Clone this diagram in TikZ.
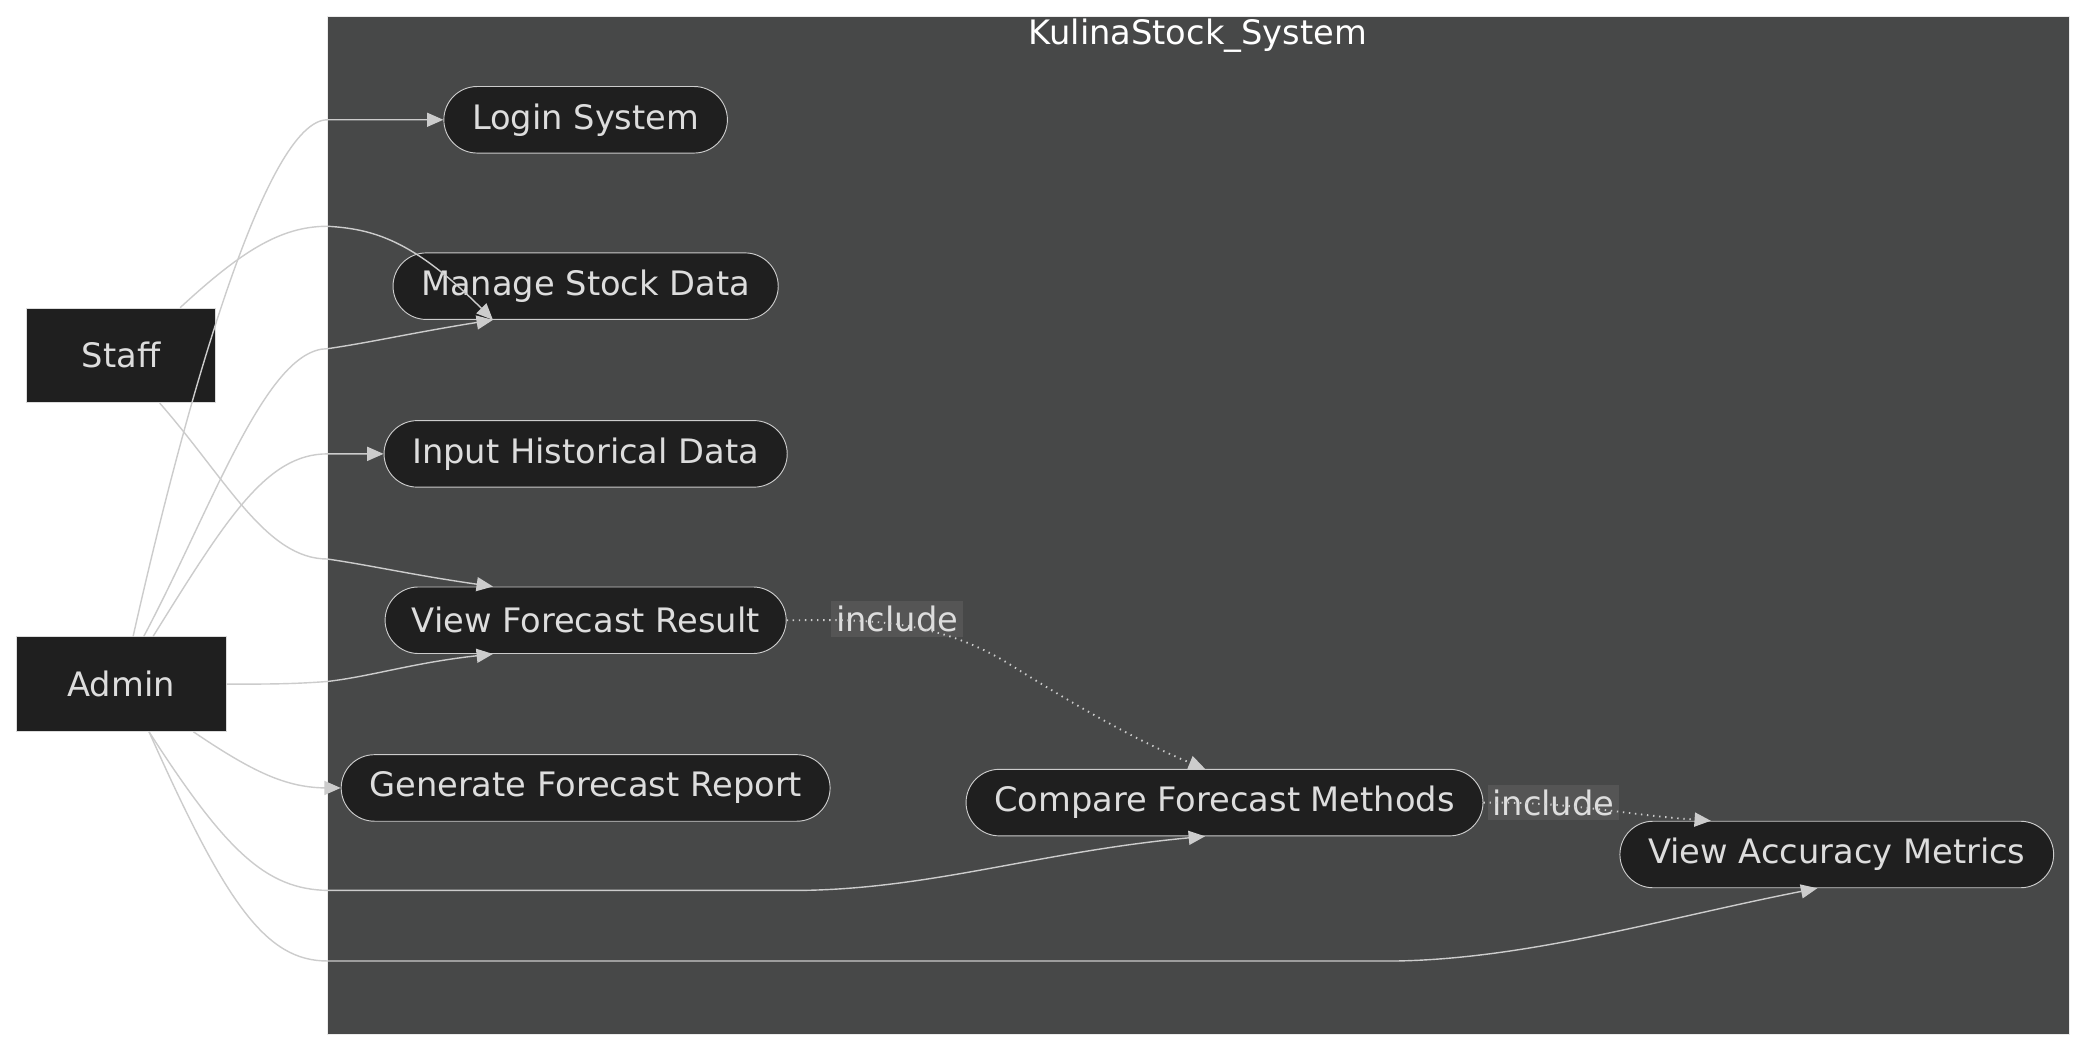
\documentclass[tikz,border=0pt]{standalone}
\usepackage{fontspec}
\setmainfont{DejaVu Sans}
\usetikzlibrary{arrows.meta,positioning,shapes.misc}
\definecolor{sysbg}{HTML}{474848}
\definecolor{nodebg}{HTML}{1F1F1F}
\definecolor{linec}{HTML}{CCCCCC}
\definecolor{textc}{HTML}{DDDDDD}
\definecolor{lblbg}{HTML}{555555}
\begin{document}
\begin{tikzpicture}[x=0.02cm, y=-0.02cm,
    actor/.style={rectangle, draw=linec!70, fill=nodebg, text=textc, minimum width=2.84cm, minimum height=1.42cm, font=\Large},
    usecase/.style={rounded rectangle, draw=linec, fill=nodebg, text=textc, minimum height=1cm, inner xsep=0.36cm, font=\Large},
    edge/.style={draw=linec, line width=0.6pt, -{Triangle[length=7pt,width=6pt]}},
    inc/.style={edge, dotted, line width=0.8pt},
    lbl/.style={fill=lblbg, text=textc, font=\Large, inner sep=2pt}
]
    % canvas and system boundary
    \useasboundingbox (0,0) rectangle (1568,790);
    \fill[white] (0,0) rectangle (1568,790);
    \node[draw=linec!40, fill=sysbg, minimum width=26.18cm, minimum height=15.3cm, anchor=north west] (sys) at (246,12) {};
    \node[text=white, font=\Large] (systitle) at (900,27) {KulinaStock\_System};

    % actors
    \node[actor] (staff) at (91,267) {Staff};
    \node[actor, minimum width=3.16cm] (admin) at (91,514) {Admin};

    % use cases
    \node[usecase] (login) at (440,90) {Login System};
    \node[usecase] (manage) at (440,215) {Manage Stock Data};
    \node[usecase] (input) at (440,341) {Input Historical Data};
    \node[usecase] (viewf) at (440,466) {View Forecast Result};
    \node[usecase] (report) at (440,592) {Generate Forecast Report};
    \node[usecase] (compare) at (920,603) {Compare Forecast Methods};
    \node[usecase] (accuracy) at (1380,642) {View Accuracy Metrics};

    % staff links
    \draw[edge] (staff.north east) ++(-27,0) .. controls (180,190) and (210,170) .. (246,170) .. controls (280,172) and (310,180) .. (manage.200);
    \draw[edge] (staff.south) ++(29,0) .. controls (170,360) and (200,420) .. (246,420) .. controls (280,425) and (310,432) .. (viewf.160);

    % admin links
    \draw[edge] (admin.north) ++(9,0) .. controls (140,300) and (200,90) .. (246,90) -- (login.west);
    \draw[edge] (admin.north) ++(17,0) .. controls (160,380) and (200,262) .. (246,262) .. controls (280,257) and (310,250) .. (manage.200|-manage.south);
    \draw[edge] (admin.north) ++(24,0) .. controls (170,390) and (200,341) .. (246,341) -- (input.west);
    \draw[edge] (admin.east) .. controls (200,514) and (220,514) .. (246,512) .. controls (280,508) and (310,498) .. (viewf.200|-viewf.south);
    \draw[edge] (admin.south east) ++(-25,0) .. controls (190,580) and (215,592) .. (246,592) -- (report.west);
    \draw[edge] (admin.south) ++(21,0) .. controls (170,640) and (200,668) .. (246,669) -- (600,669) .. controls (700,668) and (780,640) .. (compare.240|-compare.south);
    \draw[edge] (admin.south) ++(21,0) .. controls (170,680) and (200,722) .. (246,722) -- (1050,722) .. controls (1150,720) and (1250,690) .. (accuracy.240|-accuracy.south);

    % include relations
    \node[lbl] (inc1) at (674,465) {include};
    \node[lbl] (inc2) at (1167,603) {include};
    \draw[inc] (viewf.east) .. controls (640,466) and (700,462) .. (760,500) .. controls (800,525) and (850,555) .. (compare.120|-compare.north);
    \draw[inc] (compare.east) -- (1130,603) .. controls (1190,604) and (1220,612) .. (accuracy.165);
\end{tikzpicture}
\end{document}
